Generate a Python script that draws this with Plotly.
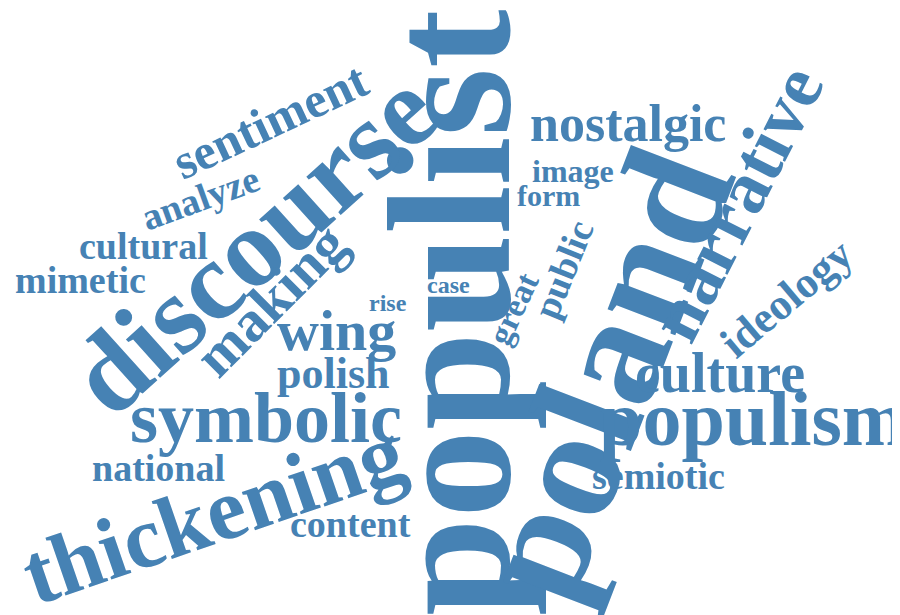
import plotly.graph_objects as go

words = ["populist","poland","discourse","thickening","populism","symbolic","narrative","culture",
         "nostalgic","wing","making","sentiment","analyze","cultural","mimetic","polish","national",
         "content","semiotic","ideology","image","form","public","great","rise","case"]
xs = [442,595,245,205,745,258,728,712,620,328,262,262,192,135,72,325,150,342,650,778,565,540,555,505,380,440]
ys = [305,365,235,505,410,410,195,365,116,322,292,113,190,238,272,365,460,516,468,290,163,187,262,300,295,277]
sizes = [176,158,112,88,78,72,74,56,52,58,58,50,38,38,38,44,38,38,38,44,32,30,38,34,24,24]
angles = [-90,-69,-42,-19,0,0,-63,0,0,0,-45,-25,-20,0,0,0,0,0,0,-40,0,0,-68,-65,0,0]

W, H = 900, 615
fig = go.Figure()
for w, x, y, s, a in zip(words, xs, ys, sizes, angles):
    fig.add_annotation(text=w, x=x / W, y=1 - y / H, xref="paper", yref="paper",
                       showarrow=False, textangle=a, xanchor="center", yanchor="middle",
                       font=dict(family="Liberation Serif", size=s, color="#4682b4", weight="bold"))
fig.update_layout(width=W, height=H, margin=dict(l=0, r=0, t=0, b=0),
                  paper_bgcolor="white", plot_bgcolor="white",
                  xaxis=dict(visible=False), yaxis=dict(visible=False))
fig.write_html("out.html")
